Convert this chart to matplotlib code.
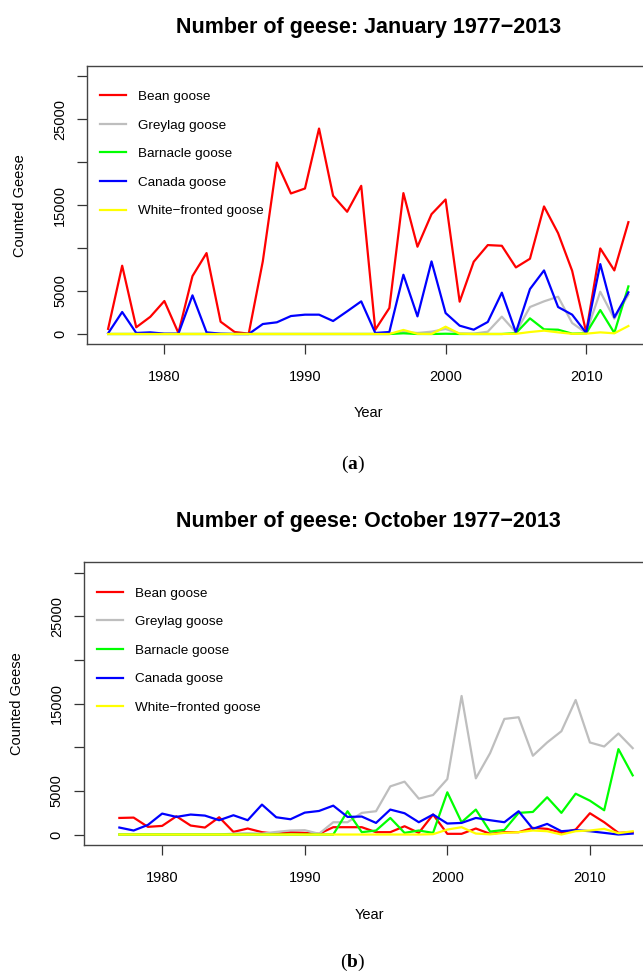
import matplotlib
matplotlib.use('Agg')
import matplotlib.pyplot as plt

plt.rcParams['font.family'] = ['Liberation Sans', 'DejaVu Sans']
plt.rcParams['mathtext.fontset'] = 'custom'
plt.rcParams['mathtext.bf'] = 'Liberation Serif:bold'

# January counts 1976-2013
years_jan = list(range(1976, 2014))
bean_jan = [600, 7950, 780, 2000, 3840, 120, 6740, 9420, 1430, 230,
            40, 8450, 19960, 16360, 16940, 23920, 16090, 14230, 17250, 500,
            3020, 16400, 10160, 13950, 15660, 3760, 8410, 10350, 10270, 7750,
            8760, 14850, 11740, 7360, 190, 9960, 7400, 13020]
greylag_jan = [0, 0, 0, 0, 0, 0, 0, 0, 0, 0,
               0, 0, 0, 0, 0, 0, 0, 0, 0, 0,
               0, 230, 120, 270, 580, 60, 40, 270, 2020, 190,
               3140, 3800, 4340, 1280, 120, 4920, 1780, 4570]
barnacle_jan = [0, 0, 0, 0, 0, 0, 0, 0, 0, 0,
                0, 0, 0, 0, 0, 0, 0, 0, 0, 0,
                0, 80, 0, 0, 30, 0, 0, 0, 0, 100,
                1820, 540, 500, 40, 80, 2790, 120, 5540]
canada_jan = [80, 2560, 120, 190, 40, 40, 4500, 190, 40, 0,
              0, 1160, 1360, 2090, 2250, 2250, 1510, 2640, 3800, 120,
              230, 6900, 2050, 8450, 2440, 970, 500, 1400, 4810, 190,
              5230, 7400, 3140, 2250, 120, 8140, 1940, 4850]
white_jan = [0, 0, 0, 0, 0, 0, 0, 0, 0, 0,
             0, 0, 0, 0, 0, 0, 0, 0, 0, 0,
             0, 470, 20, 0, 850, 30, 0, 0, 0, 20,
             230, 390, 190, 20, 40, 190, 80, 930]

# October counts 1977-2013
years_oct = list(range(1977, 2014))
bean_oct = [1900, 1940, 880, 990, 2090, 1030, 800, 1980, 300, 690,
            270, 80, 270, 190, 80, 840, 840, 840, 270, 270,
            950, 190, 2290, 80, 80, 690, 80, 270, 270, 760,
            650, 190, 570, 2440, 1410, 190, 270]
greylag_oct = [0, 0, 0, 0, 0, 0, 0, 0, 100, 150,
               100, 300, 460, 500, 80, 1410, 1410, 2480, 2670, 5520,
               6060, 4110, 4530, 6360, 15880, 6440, 9330, 13250, 13440, 9030,
               10550, 11840, 15420, 10550, 10090, 11580, 9900]
barnacle_oct = [0, 0, 0, 0, 0, 0, 0, 0, 0, 0,
                0, 0, 0, 0, 0, 0, 2670, 270, 460, 1900,
                190, 460, 190, 4840, 1410, 2860, 340, 530, 2480, 2590,
                4270, 2480, 4680, 3880, 2780, 9790, 6780]
canada_oct = [800, 460, 1100, 2400, 2020, 2290, 2170, 1640, 2210, 1640,
              3430, 1980, 1750, 2510, 2700, 3310, 2020, 2060, 1330, 2860,
              2440, 1410, 2290, 1260, 1330, 1900, 1640, 1410, 2670, 650,
              1220, 380, 500, 380, 190, 0, 110]
white_oct = [0, 0, 0, 0, 0, 0, 0, 0, 0, 0,
             0, 0, 0, 0, 0, 0, 0, 0, 0, 0,
             0, 0, 40, 570, 840, 110, 20, 190, 270, 460,
             380, 0, 380, 460, 650, 150, 380]

species = ['Bean goose', 'Greylag goose', 'Barnacle goose', 'Canada goose',
           'White\u2212fronted goose']
colors = ['#ff0000', '#bebebe', '#00ff00', '#0000ff', '#ffff00']
yticks = [0, 5000, 10000, 15000, 20000, 25000, 30000]
ytick_labels = ['0', '5000', '', '15000', '', '25000', '']
xticks = [1980, 1990, 2000, 2010]

W, H = 643, 977
fig = plt.figure(figsize=(W / 100, H / 100), dpi=100)


def px_axes(left, top, right, bottom):
    return fig.add_axes([left / W, 1 - bottom / H, (right - left) / W, (bottom - top) / H])


def draw_panel(ax, years, series, title, title_y, caption, caption_y, ylab_x, leg_y):
    for vals, c, name in zip(series, colors, species):
        ax.plot(years, vals, color=c, lw=1.6, label=name)
    ax.set_xlim(1974.52, 2014.48)
    ax.set_ylim(-1200, 31200)
    ax.set_xticks(xticks)
    ax.set_xticklabels([str(x) for x in xticks])
    ax.set_yticks(yticks)
    ax.set_yticklabels(ytick_labels, rotation=90, va='center')
    ax.tick_params(axis='both', length=7.5, width=0.9, color='#333333', labelsize=10.5)
    ax.tick_params(axis='x', pad=11)
    ax.tick_params(axis='y', pad=7)
    for sp in ax.spines.values():
        sp.set_color('#444444')
        sp.set_linewidth(1.0)
    ax.set_xlabel('Year', fontsize=10.5, va='center')
    ax.xaxis.set_label_coords(0.5, -0.248)
    ax.set_ylabel('Counted Geese', fontsize=10.5, va='center')
    ax.yaxis.set_label_coords(ylab_x, 0.5)
    ax.legend(loc='upper left', bbox_to_anchor=(0.022, leg_y), frameon=False,
              fontsize=9.7, handlelength=1.98, handletextpad=0.9,
              labelspacing=1.2, borderaxespad=0, borderpad=0)
    fig.text(368.5 / W, 1 - title_y / H, title, ha='center', va='center',
             fontsize=15.5, fontweight='bold')
    fig.text(353 / W, 1 - caption_y / H, caption, ha='center', va='center',
             fontsize=14, family='Liberation Serif')


ax1 = px_axes(87.3, 66, 649.2, 344.3)
draw_panel(ax1, years_jan, [bean_jan, greylag_jan, barnacle_jan, canada_jan, white_jan],
           'Number of geese: January 1977\u22122013', 27, r'($\mathbf{a}$)', 464, -0.12, 0.912)

ax2 = px_axes(84, 562.3, 653.8, 845)
draw_panel(ax2, years_oct, [bean_oct, greylag_oct, barnacle_oct, canada_oct, white_oct],
           'Number of geese: October 1977\u22122013', 521, r'($\mathbf{b}$)', 962, -0.118, 0.912)

fig.savefig('out.png', dpi=100)
